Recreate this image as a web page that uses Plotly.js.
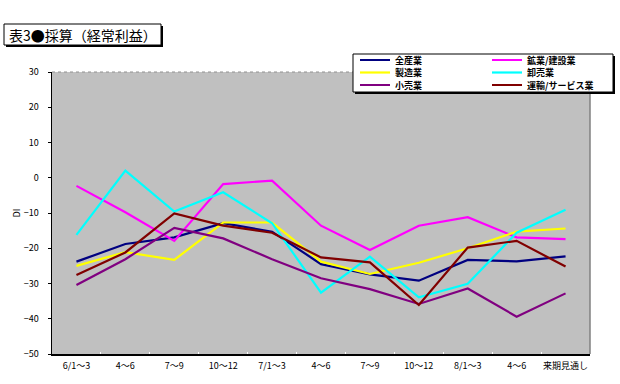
<!DOCTYPE html>
<html><head><meta charset="utf-8">
<script src="https://cdn.plot.ly/plotly-3.0.1.min.js"></script>
<style>html,body{margin:0;padding:0;background:#fff}#chart{width:620px;height:384px}</style>
</head><body><div id="chart"></div>
<script>
const categories = ['6/1～3','4～6','7～9','10～12','7/1～3','4～6','7～9','10～12','8/1～3','4～6','来期見通し'];
const seriesNames = ['全産業','鉱業/建設業','製造業','卸売業','小売業','運輸/サービス業'];
const allIndustry        = [-23.8,-18.8,-16.9,-12.9,-15.3,-24.5,-27.4,-29.2,-23.3,-23.7,-22.3];
const miningConstruction = [-2.3,-9.8,-17.9,-1.8,-0.8,-13.6,-20.5,-13.6,-11.2,-16.9,-17.4];
const manufacturing      = [-25.0,-21.1,-23.3,-12.7,-12.7,-23.8,-27.3,-24.1,-20.0,-15.3,-14.4];
const wholesale          = [-16.2,2.0,-9.6,-4.1,-12.9,-32.6,-22.4,-33.9,-30.1,-15.6,-9.1];
const retail             = [-30.4,-23.1,-14.2,-17.2,-23.1,-28.5,-31.6,-35.8,-31.4,-39.4,-32.8];
const transportService   = [-27.6,-21.2,-10.1,-13.6,-15.6,-22.6,-24.0,-36.1,-19.8,-17.9,-25.2];
const yTicks = [30,20,10,0,-10,-20,-30,-40,-50];
const chartTitle = '表3●採算（経常利益）';
const yTitle = 'DI';

const seriesValues = [allIndustry, miningConstruction, manufacturing, wholesale, retail, transportService];
const colors = ['#000080','#ff00ff','#ffff00','#00ffff','#800080','#800000'];
const xIdx = categories.map((c, i) => i);
const FONT = '"Noto Sans CJK JP", "Noto Sans", sans-serif';

// plot area in pixels
const L = 52, R = 590, T = 72, B = 354;
const px = v => (v - L) / (R - L);
const py = v => (B - v) / (B - T);

const legendIds = seriesNames.map((n, i) => i === 0 ? 'legend' : 'legend' + (i + 1));
const traces = seriesNames.map((name, i) => ({
  type: 'scatter', mode: 'lines', name: name,
  x: xIdx, y: seriesValues[i],
  line: {color: colors[i], width: 2.2},
  legend: legendIds[i],
  hoverinfo: 'skip'
}));

const layout = {
  width: 620, height: 384,
  margin: {l: L, r: 620 - R, t: T, b: 384 - B, pad: 0},
  paper_bgcolor: '#ffffff', plot_bgcolor: '#c0c0c0',
  font: {family: FONT, size: 9, color: '#000'},
  showlegend: true,
  xaxis: {
    range: [-0.5, categories.length - 0.5],
    tickmode: 'array', tickvals: xIdx, ticktext: categories,
    ticks: '', showgrid: false, zeroline: false,
    showline: true, linecolor: '#000', linewidth: 1.5,
    tickfont: {family: FONT, size: 9},
    ticklabelstandoff: 3,
    minor: {tickmode: 'array', tickvals: categories.slice(1).map((c, i) => i + 0.5), ticks: 'inside', ticklen: 2, tickcolor: '#ffffff', showgrid: false},
    automargin: false, fixedrange: true
  },
  yaxis: {
    range: [-50, 30], tickmode: 'array', tickvals: yTicks,
    ticks: 'outside', ticklen: 3, tickcolor: '#000',
    showgrid: false, zeroline: false,
    showline: true, linecolor: '#000', linewidth: 1.5,
    tickfont: {family: FONT, size: 9},
    ticklabelstandoff: 7,
    title: {text: yTitle, font: {family: FONT, size: 9}, standoff: 1},
    automargin: false, fixedrange: true
  },
  shapes: [
    {type: 'line', xref: 'paper', yref: 'paper', x0: 1, x1: 1, y0: 0, y1: 1, line: {color: '#808080', width: 1.5}},
    {type: 'line', xref: 'paper', yref: 'paper', x0: 0, x1: 1, y0: 1, y1: 1, line: {color: '#909090', width: 1, dash: 'dot'}},
    // title box shadow + box
    {type: 'rect', xref: 'paper', yref: 'paper', x0: px(6), x1: px(163), y0: py(47), y1: py(26), fillcolor: '#000', line: {width: 0}},
    {type: 'rect', xref: 'paper', yref: 'paper', x0: px(4), x1: px(161), y0: py(45), y1: py(24), fillcolor: '#fff', line: {color: '#000', width: 1}},
    // legend box shadow + box
    {type: 'rect', xref: 'paper', yref: 'paper', x0: px(355), x1: px(615), y0: py(94), y1: py(56), fillcolor: '#000', line: {width: 0}},
    {type: 'rect', xref: 'paper', yref: 'paper', x0: px(353), x1: px(613), y0: py(92), y1: py(54), fillcolor: '#fff', line: {color: '#000', width: 1}}
  ],
  annotations: [
    {xref: 'paper', yref: 'paper', x: px(7), y: py(35), xanchor: 'left', yanchor: 'middle', showarrow: false,
     text: chartTitle, font: {family: FONT, size: 14, color: '#000'}}
  ]
};

const colX = [px(355), px(487)];
const rowY = [py(60), py(72.5), py(85)];
legendIds.forEach((id, i) => {
  layout[id] = {
    x: colX[i % 2], y: rowY[Math.floor(i / 2)], xanchor: 'left', yanchor: 'middle',
    bgcolor: 'rgba(0,0,0,0)', borderwidth: 0, orientation: 'v',
    font: {family: FONT, size: 9, color: '#000', weight: 'bold'},
    itemclick: false, itemdoubleclick: false
  };
});

Plotly.newPlot('chart', traces, layout, {staticPlot: true, displayModeBar: false});
</script></body></html>
